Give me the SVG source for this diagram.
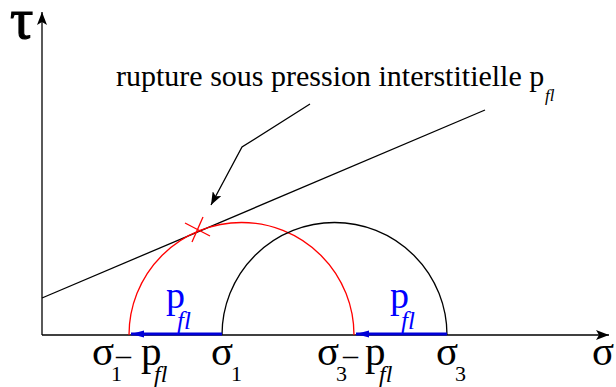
<svg xmlns="http://www.w3.org/2000/svg" width="616" height="387" viewBox="0 0 616 387">
<style>
.ln{fill:none;stroke:#000;stroke-width:1.3}
.red{fill:none;stroke:#f00;stroke-width:1.3}
.blue{fill:none;stroke:#0000d8;stroke-width:3}
.t{font-family:"Liberation Serif","Times New Roman",serif;fill:#000}
.b{fill:#0000ff}
.it{font-style:italic}
</style>
<defs>
<marker id="ah" markerUnits="userSpaceOnUse" markerWidth="14" markerHeight="10" refX="13" refY="5" orient="auto"><path d="M0,0 L13,5 L0,10 L3,5 z" fill="#000"/></marker>
<marker id="ahb" markerUnits="userSpaceOnUse" markerWidth="14" markerHeight="8" refX="13" refY="4" orient="auto"><path d="M0,0.5 L13,4 L0,7.5 z" fill="#0000d8"/></marker>
</defs>
<g id="connectors">
<line class="ln" x1="42" y1="335" x2="42" y2="12" marker-end="url(#ah)"/>
<line class="ln" x1="42" y1="335" x2="609" y2="335" marker-end="url(#ah)"/>
<line class="ln" x1="42" y1="298" x2="485" y2="110"/>
<polyline class="ln" points="310,104 242,147 211,205" marker-end="url(#ah)"/>
<path class="red" d="M129,335 A112.5,112.5 0 0 1 354,335"/>
<path class="ln" d="M222,335 A112.5,112.5 0 0 1 447,335"/>
<line class="red" x1="185" y1="223" x2="210" y2="236"/>
<line class="red" x1="203" y1="217" x2="192" y2="242"/>
<line class="blue" x1="222" y1="334" x2="131" y2="334" marker-end="url(#ahb)"/>
<line class="blue" x1="447" y1="334" x2="356" y2="334" marker-end="url(#ahb)"/>
</g>
<g id="tau"><text class="t" x="10" y="38" font-size="58" stroke="#000" stroke-width="1.2">τ</text></g>
<g id="sigma-axis"><text class="t" x="592" y="365" font-size="41">σ</text></g>
<g id="label-rupture"><text class="t" x="116" y="86" font-size="30">rupture sous pression interstitielle p</text><text class="t it" x="545" y="101" font-size="17">fl</text></g>
<g id="pfl1"><text class="t b" x="166" y="308" font-size="38">p</text><text class="t b it" x="177" y="329" font-size="25">fl</text></g>
<g id="pfl2"><text class="t b" x="390" y="308" font-size="38">p</text><text class="t b it" x="401" y="329" font-size="25">fl</text></g>
<g id="s1mp"><text class="t" x="92" y="365" font-size="41">σ</text><text class="t" x="111" y="381" font-size="22">1</text><text class="t" x="116" y="365" font-size="30">–</text><text class="t" x="141" y="365" font-size="41">p</text><text class="t it" x="154" y="382" font-size="24">fl</text></g>
<g id="s1"><text class="t" x="211" y="365" font-size="41">σ</text><text class="t" x="231" y="381" font-size="22">1</text></g>
<g id="s3mp"><text class="t" x="317" y="365" font-size="41">σ</text><text class="t" x="336" y="381" font-size="22">3</text><text class="t" x="343" y="365" font-size="30">–</text><text class="t" x="365" y="365" font-size="41">p</text><text class="t it" x="379" y="382" font-size="24">fl</text></g>
<g id="s3"><text class="t" x="436" y="365" font-size="41">σ</text><text class="t" x="455" y="381" font-size="22">3</text></g>
</svg>
